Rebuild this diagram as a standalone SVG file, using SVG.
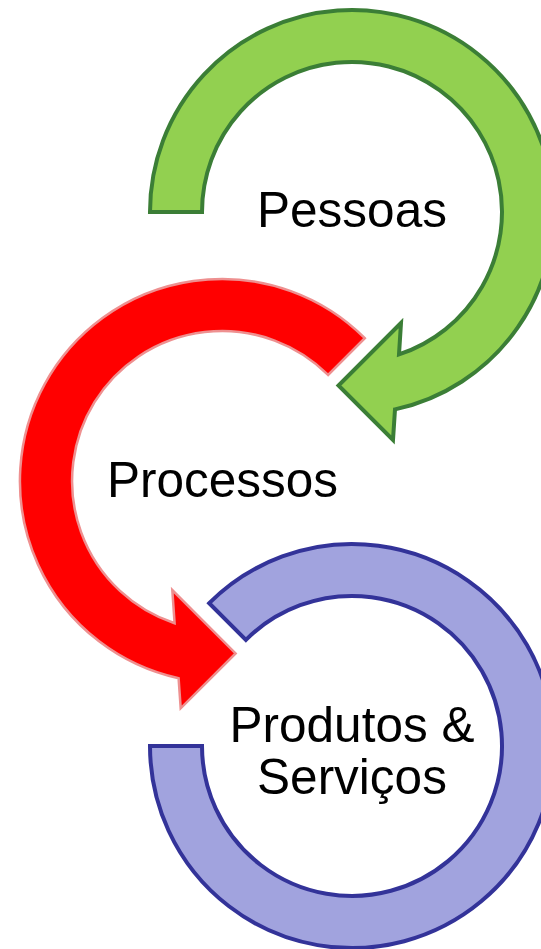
<svg xmlns="http://www.w3.org/2000/svg" width="541" height="949" viewBox="0 0 541 949">
<style>
.lbl{font-family:"Liberation Sans",Arial,sans-serif;font-size:49.5px;fill:#000;text-anchor:middle}
.green{fill:#92D050;stroke:#3B7E36;stroke-width:4;stroke-linejoin:miter}
.red{fill:#FF0000;stroke:#EE9090;stroke-width:2.5;stroke-linejoin:miter}
.blue{fill:#A1A3DE;stroke:#333399;stroke-width:4;stroke-linejoin:miter}
</style>
<rect width="541" height="949" fill="#FFFFFF"/>
<g id="connectors"></g>
<g id="node-pessoas">
<path class="green" d="M 150 212 A 202 202 0 1 1 395 409.4 L 393 440 L 338.5 385.5 L 401 323 L 399 354.4 A 150 150 0 1 0 202 212 Z"/>
<text class="lbl" x="352" y="227">Pessoas</text>
</g>
<g id="node-processos">
<path class="red" d="M 364.8 338.2 A 202 202 0 1 0 178.6 678.3 L 180.7 708.3 L 235.6 653.4 L 172.3 590 L 174.6 623.3 A 150 150 0 1 1 328.1 374.9 Z"/>
<text class="lbl" x="222.5" y="497">Processos</text>
</g>
<g id="node-produtos">
<path class="blue" d="M 150 746 A 202 202 0 1 0 209.2 603.2 L 245.9 639.9 A 150 150 0 1 1 202 746 Z"/>
<text class="lbl" x="352" y="742">Produtos &amp;</text>
<text class="lbl" x="352" y="793.5">Serviços</text>
</g>
</svg>
